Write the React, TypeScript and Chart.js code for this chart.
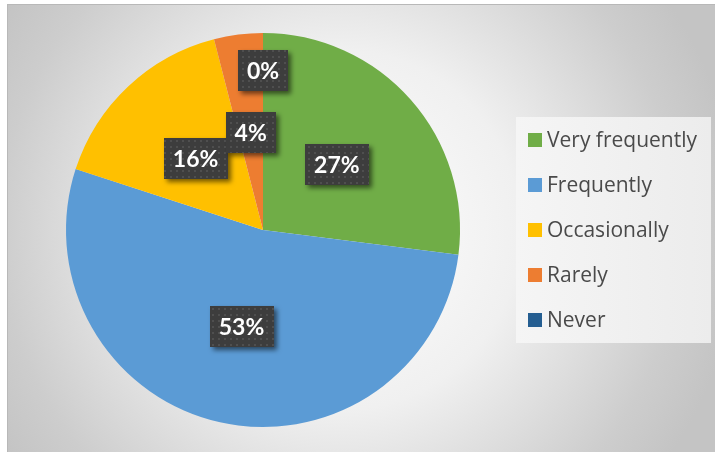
import React, { useEffect, useRef } from "react";
import { Chart, registerables } from "chart.js";

Chart.register(...registerables);

const categories = ["Very frequently", "Frequently", "Occasionally", "Rarely", "Never"];
const values = [27, 53, 16, 4, 0];
const valueLabels = ["27%", "53%", "16%", "4%", "0%"];
const colors = ["#70AD47", "#5B9BD5", "#FFC000", "#ED7D31", "#255E91"];

function makePattern(ctx: CanvasRenderingContext2D) {
  const c = document.createElement("canvas");
  c.width = 6;
  c.height = 6;
  const p = c.getContext("2d")!;
  p.fillStyle = "#3d3d3d";
  p.fillRect(0, 0, 6, 6);
  p.fillStyle = "#4f4f4f";
  p.fillRect(2, 2, 2, 2);
  return ctx.createPattern(c, "repeat")!;
}

const backgroundPlugin = {
  id: "bgPlugin",
  beforeDraw(chart: any) {
    const ctx = chart.ctx as CanvasRenderingContext2D;
    const W = chart.width;
    const H = chart.height;
    ctx.save();
    ctx.fillStyle = "#ffffff";
    ctx.fillRect(0, 0, W, H);
    const g = ctx.createRadialGradient(340, 230, 0, 340, 230, 400);
    g.addColorStop(0, "#ffffff");
    g.addColorStop(0.45, "#f0f0f0");
    g.addColorStop(0.85, "#cdcdcd");
    g.addColorStop(1, "#c4c4c4");
    ctx.fillStyle = g;
    ctx.fillRect(7, 4, W - 7, H - 4);
    ctx.strokeStyle = "#b8b8b8";
    ctx.lineWidth = 1;
    ctx.strokeRect(7.5, 4.5, W, H);
    ctx.restore();
  },
};

const overlayPlugin = {
  id: "overlayPlugin",
  afterDatasetsDraw(chart: any) {
    const ctx = chart.ctx as CanvasRenderingContext2D;
    ctx.save();
    // Legend box
    const lg = ctx.createLinearGradient(516, 0, 711, 0);
    lg.addColorStop(0, "#f5f5f5");
    lg.addColorStop(1, "#ececec");
    ctx.fillStyle = lg;
    ctx.fillRect(516, 117, 195, 226);
    ctx.font = "21px 'Open Sans', 'Liberation Sans', sans-serif";
    ctx.textBaseline = "middle";
    ctx.textAlign = "left";
    const labels: string[] = chart.data.labels;
    labels.forEach((lab, i) => {
      const cy = 140 + i * 45;
      ctx.fillStyle = colors[i];
      ctx.fillRect(528, cy - 7, 14, 14);
      ctx.fillStyle = "#4a4a4a";
      ctx.fillText(lab, 547, cy + 1);
    });

    // Data labels
    const meta = chart.getDatasetMeta(0);
    const pattern = makePattern(ctx);
    ctx.font = "bold 23px Lato, 'Liberation Sans', sans-serif";
    meta.data.forEach((arc: any, i: number) => {
      const v = values[i];
      const mid = (arc.startAngle + arc.endAngle) / 2;
      const f = v === 0 ? 0.81 : 0.5;
      const cx = arc.x + Math.cos(mid) * arc.outerRadius * f;
      const cy = arc.y + Math.sin(mid) * arc.outerRadius * f;
      const text = valueLabels[i];
      const tw = ctx.measureText(text).width;
      const bw = Math.round(tw + 18);
      const bh = 41;
      const bx = Math.round(cx - bw / 2);
      const by = Math.round(cy - bh / 2);
      ctx.save();
      ctx.shadowColor = "rgba(0,0,0,0.55)";
      ctx.shadowBlur = 5;
      ctx.shadowOffsetX = 3;
      ctx.shadowOffsetY = 3;
      ctx.fillStyle = pattern;
      ctx.fillRect(bx, by, bw, bh);
      ctx.restore();
      ctx.fillStyle = "#ffffff";
      ctx.textAlign = "center";
      ctx.textBaseline = "middle";
      ctx.fillText(text, cx, cy + 1);
    });
    ctx.restore();
  },
};

export default function App() {
  const ref = useRef<HTMLCanvasElement | null>(null);
  useEffect(() => {
    document.body.style.margin = "0";
    const chart = new Chart(ref.current!, {
      type: "pie",
      data: {
        labels: categories,
        datasets: [
          {
            data: values,
            backgroundColor: colors,
            borderWidth: 0,
          },
        ],
      },
      options: {
        responsive: false,
        animation: false,
        layout: { padding: { left: 66, right: 255, top: 33, bottom: 25 } },
        plugins: {
          legend: { display: false },
          tooltip: { enabled: false },
        },
      },
      plugins: [backgroundPlugin, overlayPlugin],
    });
    return () => chart.destroy();
  }, []);
  return (
    <div style={{ position: "fixed", left: 0, top: 0, width: 715, height: 452 }}>
      <canvas ref={ref} width={715} height={452} style={{ display: "block" }} />
    </div>
  );
}
